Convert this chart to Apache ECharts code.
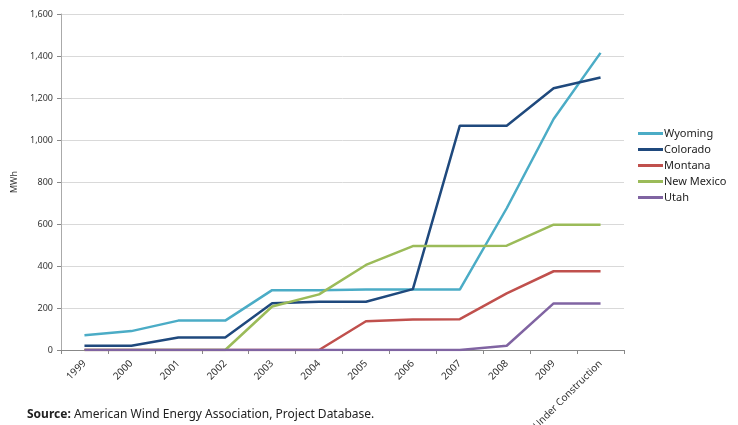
<!DOCTYPE html>
<html><head><meta charset="utf-8">
<script src="https://cdn.jsdelivr.net/npm/echarts@6/dist/echarts.min.js"></script>
<style>html,body{margin:0;padding:0;background:#fff}#c{width:738px;height:425px}</style>
</head><body><div id="c"></div>
<script>
const categories = ['1999','2000','2001','2002','2003','2004','2005','2006','2007','2008','2009','Under Construction'];
const wyoming   = [70, 90, 140, 140, 285, 285, 288, 288, 288, 675, 1100, 1415];
const colorado  = [20, 20, 60, 60, 223, 230, 230, 290, 1068, 1068, 1246, 1298];
const montana   = [0, 0, 0, 0, 0, 0, 137, 145, 147, 270, 375, 375];
const newMexico = [0, 0, 0, 0, 207, 265, 405, 495, 495, 497, 597, 597];
const utah      = [0, 0, 0, 0, 0, 0, 0, 0, 0, 20, 222, 222];
const yTicks = { min: 0, max: 1600, interval: 200 };

const chart = echarts.init(document.getElementById('c'));
const font = 'Noto Sans';
function s(name, data, color) {
  return { name, type: 'line', data, symbol: 'none', lineStyle: { width: 2.5, color }, itemStyle: { color } };
}
chart.setOption({
  animation: false,
  textStyle: { fontFamily: font },
  grid: { left: 61, right: 114, top: 14, bottom: 75, containLabel: false, outerBoundsMode: 'none' },
  legend: {
    orient: 'vertical', left: 633, top: 123, itemGap: 5, itemWidth: 25, itemHeight: 3,
    icon: 'rect', textStyle: { fontSize: 11, color: '#222', padding: [0,0,0,-4] },
    data: ['Wyoming','Colorado','Montana','New Mexico','Utah']
  },
  xAxis: {
    type: 'category', data: categories, boundaryGap: true,
    axisLine: { lineStyle: { color: '#888', width: 1 } },
    axisTick: { show: true, length: 4, lineStyle: { color: '#888' } },
    axisLabel: { rotate: 45, fontSize: 10, color: '#333', margin: 12 }
  },
  yAxis: {
    type: 'value', min: yTicks.min, max: yTicks.max, interval: yTicks.interval,
    name: 'MWh', nameLocation: 'middle', nameGap: 36, nameRotate: 90,
    nameTextStyle: { fontSize: 9, color: '#333' },
    axisLine: { show: true, lineStyle: { color: '#aaa' } },
    axisTick: { show: true, length: 4, lineStyle: { color: '#888' } },
    axisLabel: { fontSize: 9, color: '#333', formatter: v => v.toLocaleString('en-US') },
    splitLine: { lineStyle: { color: '#d9d9d9' } }
  },
  graphic: [{
    type: 'text', left: 27, top: 409,
    style: {
      text: '{b|Source:} American Wind Energy Association, Project Database.',
      rich: { b: { fontWeight: 'bold', fontSize: 12, fontFamily: font, fill: '#222' } },
      fontSize: 12, fontFamily: font, fill: '#222'
    }
  }],
  series: [
    s('Wyoming', wyoming, '#4bacc6'),
    s('Colorado', colorado, '#1f497d'),
    s('Montana', montana, '#c0504d'),
    s('New Mexico', newMexico, '#9bbb59'),
    s('Utah', utah, '#8064a2')
  ]
});
</script></body></html>
